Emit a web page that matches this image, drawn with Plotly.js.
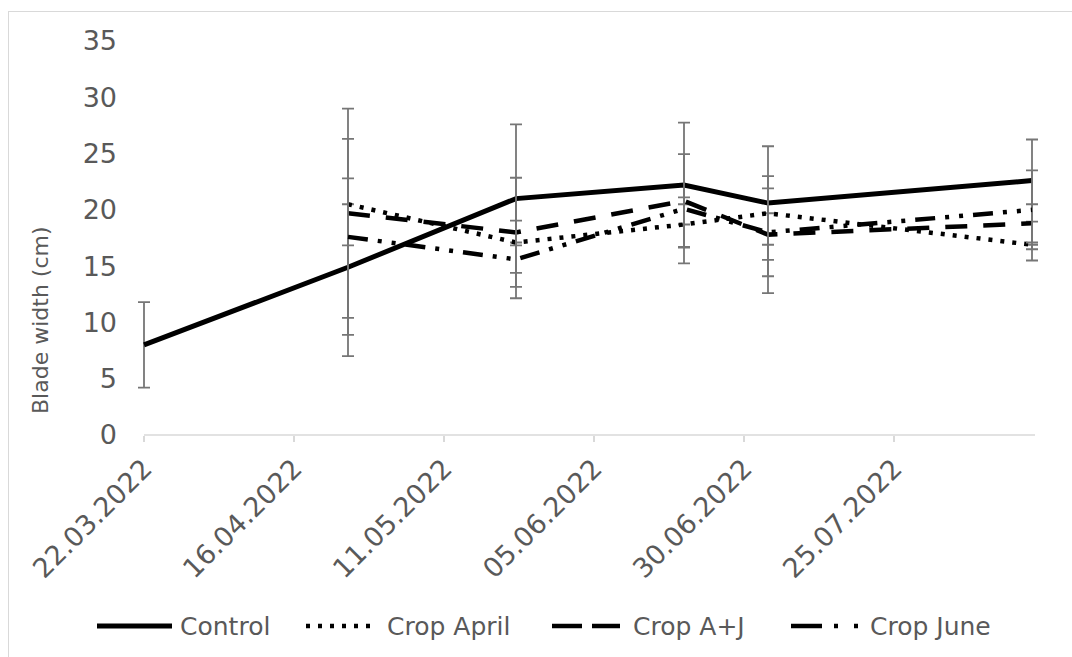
<!DOCTYPE html>
<html>
<head>
<meta charset="utf-8">
<script src="https://cdn.plot.ly/plotly-3.0.1.min.js"></script>
<style>
  html, body { margin:0; padding:0; background:#ffffff; width:1072px; height:657px; overflow:hidden; }
  #frame { position:absolute; left:8px; top:11px; width:1080px; height:700px; border-left:1px solid #d9d9d9; border-top:1px solid #d9d9d9; }
  #plot { position:absolute; left:0; top:0; width:1072px; height:657px; }
</style>
</head>
<body>
<div id="frame"></div>
<div id="plot"></div>
<script>
// ---- data ----
const dates = ['2022-03-22', '2022-04-25', '2022-05-23', '2022-06-20', '2022-07-04', '2022-08-17'];
const cropDates = ['2022-04-25', '2022-05-23', '2022-06-20', '2022-07-04', '2022-08-17'];

const controlVals = [8.0, 14.9, 21.0, 22.2, 20.6, 22.6];
const controlErr  = [3.8, 7.9, 6.6, 5.55, 5.05, 3.65];

const aprilVals      = [20.5, 17.1, 18.7, 19.7, 16.9];
const aprilErrPlus   = [0, 0, 0, 0, 0];
const aprilErrMinus  = [3.65, 0.25, 2.0, 2.8, 1.4];

const ajVals = [19.7, 18.0, 20.8, 17.8, 18.8];
const ajErr  = [9.3, 4.85, 0.3, 5.2, 1.7];

const juneVals = [17.6, 15.6, 20.1, 18.0, 20.0];
const juneErr  = [8.7, 3.45, 4.85, 3.9, 3.5];

const seriesNames = ['Control', 'Crop April', 'Crop A+J', 'Crop June'];
const yTicks = [0, 5, 10, 15, 20, 25, 30, 35];
const axisStart = '2022-03-22';
const axisEnd = '2022-08-17 12:00';
const tickStepDays = 25;
// small padding so end error-bar caps are not clipped
const viewStart = '2022-03-20 12:00';
const viewEnd = '2022-08-18 12:00';

// ---- styles ----
const txt = '#595959';
const fam = '"DejaVu Sans", Verdana, sans-serif';
const errColor = '#767676';
const dashes = ['solid', '4px,8px', '22px,16px', '20px,10px,4px,10px,4px,10px'];
const legDashes = ['solid', '4px,8px', '30px,10px', '31px,12px,4px,16px,4px,40px'];
const widths = [5, 4.5, 4.5, 4.5];

function errOpts(arr) {
  return {type: 'data', array: arr, visible: true, color: errColor, thickness: 1.8, width: 6};
}

const traces = [
  {x: dates, y: controlVals, name: seriesNames[0], mode: 'lines', cliponaxis: false,
   line: {color: '#000', width: widths[0], dash: dashes[0]}, error_y: errOpts(controlErr)},
  {x: cropDates, y: aprilVals, name: seriesNames[1], mode: 'lines', cliponaxis: false,
   line: {color: '#000', width: widths[1], dash: dashes[1]},
   error_y: {type: 'data', symmetric: false, array: aprilErrPlus, arrayminus: aprilErrMinus,
             visible: true, color: errColor, thickness: 1.8, width: 6}},
  {x: cropDates, y: ajVals, name: seriesNames[2], mode: 'lines', cliponaxis: false,
   line: {color: '#000', width: widths[2], dash: dashes[2]}, error_y: errOpts(ajErr)},
  {x: cropDates, y: juneVals, name: seriesNames[3], mode: 'lines', cliponaxis: false,
   line: {color: '#000', width: widths[3], dash: dashes[3]}, error_y: errOpts(juneErr)}
];

// plot area spans px 135..1041 x (6 px per day), 41..435 y
const L = 135, R = 1041, T = 41, B = 435;
const px = v => (v - L) / (R - L);
const py = v => (B - v) / (B - T);
const legY = py(626);
const legLines = [[97, 172], [306, 376], [552, 620], [791, 860]];
const legText = [178, 385, 631, 868];

const shapes = legLines.map((s, i) => ({
  type: 'line', xref: 'paper', yref: 'paper', x0: px(s[0]), x1: px(s[1]), y0: legY, y1: legY,
  line: {color: '#000', width: widths[i], dash: legDashes[i]}
}));
// category axis line from first to last date of the axis
shapes.push({
  type: 'line', xref: 'x', yref: 'paper', x0: axisStart, x1: axisEnd, y0: 0, y1: 0, layer: 'below',
  line: {color: '#d9d9d9', width: 1.5}
});

const annotations = seriesNames.map((n, i) => ({
  text: n, xref: 'paper', yref: 'paper', x: px(legText[i]), y: legY, xanchor: 'left', yanchor: 'middle',
  showarrow: false, font: {family: fam, size: 25, color: txt}
}));
annotations.push({
  text: 'Blade width (cm)', xref: 'paper', yref: 'paper', x: px(40), y: py(320), textangle: -90,
  xanchor: 'center', yanchor: 'middle', showarrow: false, font: {family: fam, size: 22, color: txt}
});

const layout = {
  width: 1072, height: 657,
  margin: {l: L, r: 1072 - R, t: T, b: 657 - B, pad: 0},
  paper_bgcolor: 'rgba(0,0,0,0)', plot_bgcolor: 'rgba(0,0,0,0)',
  showlegend: false,
  font: {family: fam, color: txt},
  xaxis: {
    type: 'date', range: [viewStart, viewEnd], tickmode: 'linear', tick0: axisStart,
    dtick: tickStepDays * 86400000, tickformat: '%d.%m.%Y', tickangle: -45,
    showgrid: false, zeroline: false, showline: false,
    ticks: 'outside', ticklen: 6, tickwidth: 1.5, tickcolor: '#d9d9d9',
    tickfont: {family: fam, size: 27, color: txt}, automargin: false
  },
  yaxis: {
    range: [0, 35], tickmode: 'array', tickvals: yTicks, ticktext: yTicks.map(String),
    showgrid: false, zeroline: false, showline: false, ticks: '',
    ticklabelstandoff: 17,
    tickfont: {family: fam, size: 27, color: txt}, automargin: false
  },
  shapes: shapes,
  annotations: annotations
};

Plotly.newPlot('plot', traces, layout, {displayModeBar: false, staticPlot: true});
</script>
</body>
</html>
